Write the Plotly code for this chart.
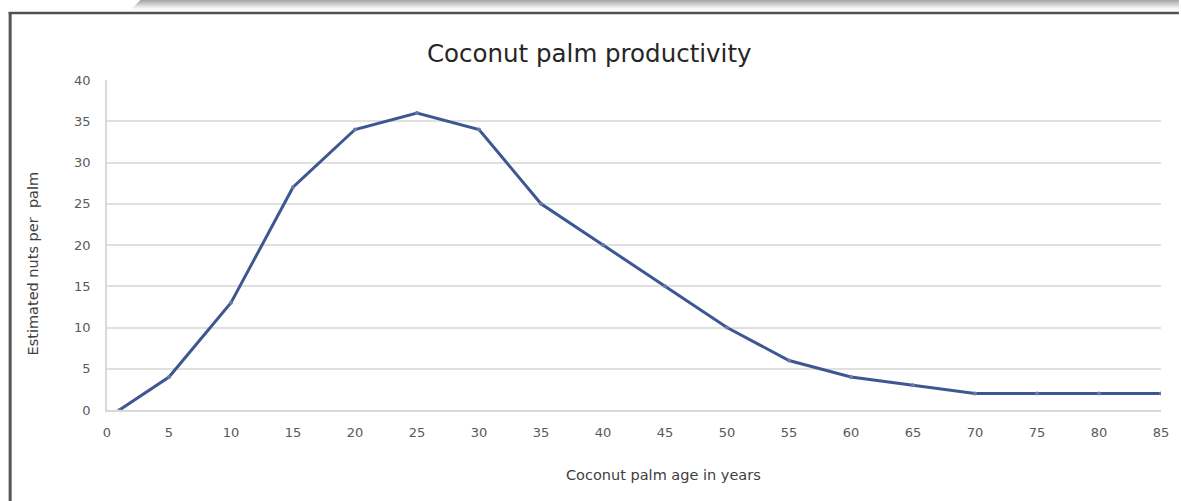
import plotly.graph_objects as go

# Estimated nut yield per coconut palm by age
age_years = [1, 5, 10, 15, 20, 25, 30, 35, 40, 45, 50, 55, 60, 65, 70, 75, 80, 85]
nuts_per_palm = [0, 4, 13, 27, 34, 36, 34, 25, 20, 15, 10, 6, 4, 3, 2, 2, 2, 2]

x_ticks = list(range(0, 90, 5))
y_ticks = list(range(0, 45, 5))

W, H = 1181, 501
L, R, T, B = 107, 13, 80, 91
PW, PH = W - L - R, H - T - B


def px(x):
    return (x - L) / PW


def py(y):
    return (H - B - y) / PH


TICK_FONT = dict(family="DejaVu Sans", size=13, color="#595959")
AXIS_TITLE_FONT = dict(family="DejaVu Sans", size=14.5, color="#404040")

fig = go.Figure()
fig.add_trace(go.Scatter(
    x=age_years, y=nuts_per_palm, mode="lines+markers",
    line=dict(color="#3d5793", width=3),
    marker=dict(size=4, color="#6b7aa3", line=dict(width=0)),
    showlegend=False,
))

shapes = []
# drop shadow above the chart frame
shadow = ["#a9a9a9", "#b3b3b3", "#bcbcbc", "#c6c6c6", "#d0d0d0",
          "#dadada", "#e4e4e4", "#eeeeee", "#f6f6f6", "#fbfbfb"]
for i, c in enumerate(shadow):
    shapes.append(dict(type="rect", xref="paper", yref="paper",
                       x0=px(140 - i), x1=px(W + 5), y0=py(i), y1=py(i + 1),
                       fillcolor=c, line=dict(width=0), layer="below"))
# frame lines (top and left)
shapes.append(dict(type="line", xref="paper", yref="paper",
                   x0=px(8), x1=px(W + 5), y0=py(13), y1=py(13),
                   line=dict(color="#505050", width=2.5)))
shapes.append(dict(type="line", xref="paper", yref="paper",
                   x0=px(9.5), x1=px(9.5), y0=py(12), y1=py(H + 5),
                   line=dict(color="#555555", width=3)))

fig.update_layout(
    width=W, height=H,
    margin=dict(l=L, r=R, t=T, b=B),
    paper_bgcolor="white", plot_bgcolor="white",
    shapes=shapes,
    annotations=[
        dict(text="Coconut palm productivity", xref="paper", yref="paper",
             x=px(592), y=py(53), xanchor="center", yanchor="middle",
             showarrow=False,
             font=dict(family="DejaVu Sans", size=24.5, color="#262626")),
        dict(text="Estimated nuts per  palm", xref="paper", yref="paper",
             x=px(33), y=py(263), xanchor="center", yanchor="middle",
             textangle=-90, showarrow=False, font=AXIS_TITLE_FONT),
        dict(text="Coconut palm age in years", xref="paper", yref="paper",
             x=px(667), y=py(475), xanchor="center", yanchor="middle",
             showarrow=False, font=AXIS_TITLE_FONT),
    ],
    xaxis=dict(
        range=[0, 85], tickvals=x_ticks, ticks="", showgrid=False,
        showline=True, linecolor="#d9d9d9", linewidth=1.5,
        zeroline=False, tickfont=TICK_FONT, ticklabelstandoff=10,
    ),
    yaxis=dict(
        range=[0, 40], tickvals=y_ticks, ticks="", showgrid=True,
        gridcolor="#e0e0e0", gridwidth=1.5,
        showline=True, linecolor="#d9d9d9", linewidth=1.5,
        zeroline=False, tickfont=TICK_FONT, ticklabelstandoff=12,
    ),
)

fig.write_html("out.html")
